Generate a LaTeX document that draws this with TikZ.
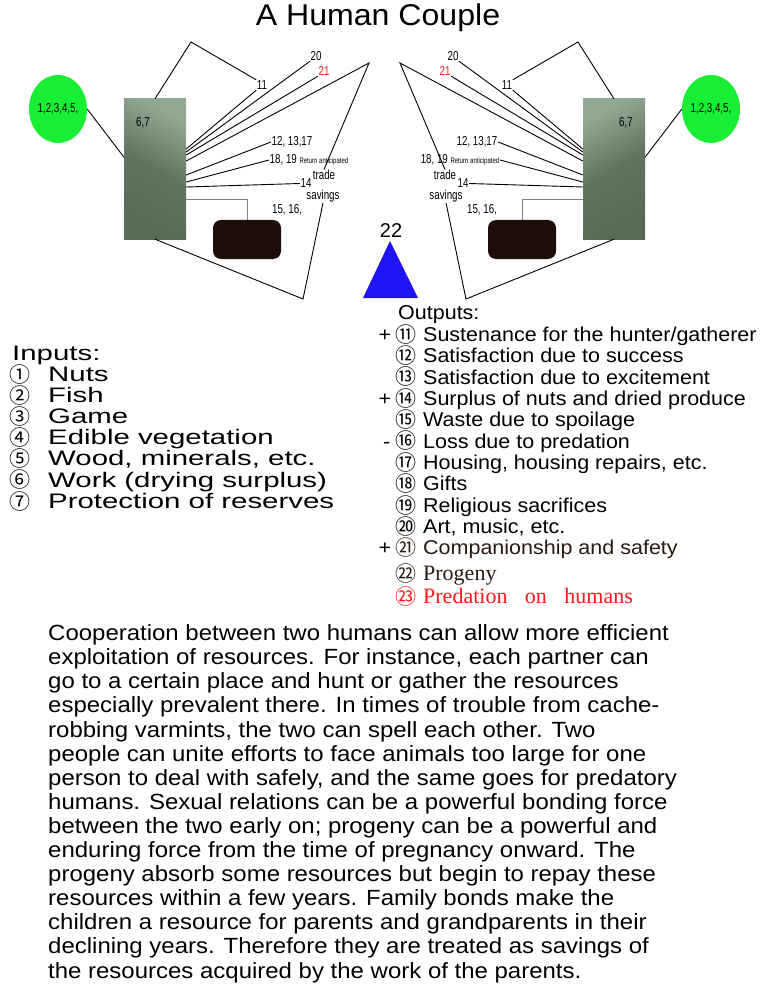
\documentclass[tikz,border=0pt]{standalone}
\usepackage{fontspec}
\setmainfont{Liberation Sans}
\newfontfamily\titlefont[FakeStretch=1.07]{Liberation Sans}
\newfontfamily\narrowfont[FakeStretch=0.75]{Liberation Sans}
\newfontfamily\inputfont[FakeStretch=1.4]{Liberation Sans}
\newfontfamily\outputfont[FakeStretch=1.075]{Liberation Sans}
\newfontfamily\parafont[FakeStretch=1.09]{Liberation Sans}
\newfontfamily\seriffont{Liberation Serif}
\newfontfamily\circfont{Noto Sans CJK JP}
\usetikzlibrary{shapes.geometric}
\definecolor{foodgreen}{RGB}{24,239,52}
\definecolor{hutlight}{RGB}{146,168,146}
\definecolor{hutdark}{RGB}{86,108,86}
\definecolor{storebrown}{RGB}{31,13,10}
\definecolor{kidblue}{RGB}{32,20,245}
\definecolor{mate}{RGB}{43,26,20}
\definecolor{danger}{RGB}{255,26,26}

\newcommand\cn[1]{\hspace{-3pt}\smash{\raisebox{-0.8pt}{\circfont\fontsize{21}{21}\selectfont #1}}}
\newcommand\couplehalf[4]{%
  \node[food] (#1food) at (58,109) {1,2,3,4,5,};
  \node[hut,shading angle=#4] (#1hut) at (155,169) {};
  \node[lbl] (#1work) at (143,123) {6,7};
  \node[lbl] (#1l11) at (262,85) {11};
  \node[lbl] (#1l20) at (316,56) {20};
  \node[lbl,text=danger] (#1l21) at (324,71) {21};
  \node[lbl] (#1l12) at (292,142) {12, 13,17};
  \node[lbl] (#1l18) at (309,160) {18, 19 {\fontsize{8}{8}\selectfont Return anticipated}};
  \node[lbl] (#1l14) at (306,183.5) {14};
  \node[lbl] (#1trade) at (324,175) {trade};
  \node[lbl] (#1savings) at (323,196) {savings};
  \node[lbl] (#1l15) at (287,210) {15, 16,};
  \node[store] (#1store) at (247,239.5) {};
  \coordinate (#1top) at (191,42);
  \coordinate (#1apex) at (369,63);
  \coordinate (#1foot) at (303,299);
  \draw[link] (#1food.#3) -- ([yshift=12pt]#1hut.#2);
  \draw[link] (#1hut.north) -- (#1top) -- (#1l11.north #2);
  \draw[link] (#1l11.south #2) -- ([yshift=20pt]#1hut.#3);
  \draw[link] (#1l20.south #2) -- ([yshift=17pt]#1hut.#3);
  \draw[link] (#1l21.south #2) -- ([yshift=14pt]#1hut.#3);
  \draw[link] ([yshift=8pt]#1hut.#3) -- (#1apex) -- (#1trade.north);
  \draw[link] (#1l12.#2) -- ([yshift=-6pt]#1hut.#3);
  \draw[link] (#1l18.#2) -- ([yshift=-13pt]#1hut.#3);
  \draw[link] (#1l14.#2) -- ([yshift=-18pt]#1hut.#3);
  \draw[link] (#1savings.south) -- (#1foot) -- (#1hut.south);
  \draw[link,gray] ([yshift=-30pt]#1hut.#3) -| (#1store.north);
}

\begin{document}
\begin{tikzpicture}[x=1pt,y=-1pt,
    food/.style={ellipse,fill=foodgreen,minimum width=58pt,minimum height=68pt,inner sep=0pt,
      font=\narrowfont\fontsize{13}{13}\selectfont},
    hut/.style={rectangle,minimum width=62pt,minimum height=140pt,inner sep=0pt,
      top color=hutlight,bottom color=hutdark,middle color=hutdark!85!hutlight},
    store/.style={rectangle,rounded corners=8pt,fill=storebrown,minimum width=68pt,minimum height=39pt},
    lbl/.style={inner sep=0.5pt,font=\narrowfont\fontsize{13}{13}\selectfont},
    link/.style={line width=0.9pt}]
\useasboundingbox[fill=white] (0,0) rectangle (768,1008);
\node[font=\titlefont\fontsize{30}{30}\selectfont] (title) at (378,18) {A Human Couple};
\begin{scope}
  \couplehalf{L}{west}{east}{-30}
\end{scope}
\begin{scope}[xshift=769pt,xscale=-1]
  \couplehalf{R}{east}{west}{30}
\end{scope}
\node[font=\fontsize{20}{20}\selectfont] (kidnum) at (391,231) {22};
\fill[kidblue] (390,241) -- (418,298) -- (363,298) -- cycle;
\node[anchor=north west,inner sep=0pt,align=left,
  font=\inputfont\fontsize{21}{21.15}\selectfont] (inputs) at (12,345.5) {Inputs:\\
  \cn{①}\hspace{18pt}Nuts\\
  \cn{②}\hspace{18pt}Fish\\
  \cn{③}\hspace{18pt}Game\\
  \cn{④}\hspace{18pt}Edible vegetation\\
  \cn{⑤}\hspace{18pt}Wood, minerals, etc.\\
  \cn{⑥}\hspace{18pt}Work (drying surplus)\\
  \cn{⑦}\hspace{18pt}Protection of reserves};
\node[anchor=north west,inner sep=0pt,align=left,
  font=\outputfont\fontsize{20}{21.36}\selectfont] (outputs) at (398,305.8) {Outputs:\\
  \llap{+\hspace{7pt}}\cn{⑪}\hspace{1pt} Sustenance for the hunter/gatherer\\
  \cn{⑫}\hspace{1pt} Satisfaction due to success\\
  \cn{⑬}\hspace{1pt} Satisfaction due to excitement\\
  \llap{+\hspace{7pt}}\cn{⑭}\hspace{1pt} Surplus of nuts and dried produce\\
  \cn{⑮}\hspace{1pt} Waste due to spoilage\\
  \llap{-\hspace{8pt}}\cn{⑯}\hspace{1pt} Loss due to predation\\
  \cn{⑰}\hspace{1pt} Housing, housing repairs, etc.\\
  \cn{⑱}\hspace{1pt} Gifts\\
  \cn{⑲}\hspace{1pt} Religious sacrifices\\
  \cn{⑳}\hspace{1pt} Art, music, etc.\\
  \llap{+\hspace{7pt}}\textcolor{mate}{\cn{㉑}\hspace{1pt} Companionship and safety}\\[4.6pt]
  \textcolor{mate}{\cn{㉒}\hspace{1pt} {\seriffont\fontsize{22}{22}\selectfont Progeny}}\\[1.6pt]
  \textcolor{danger}{\cn{㉓}\hspace{1pt} {\seriffont\fontsize{22}{22}\selectfont Predation\hspace{12pt} on\hspace{12pt} humans}}};
\node[anchor=north west,inner sep=0pt,align=left,
  font=\parafont\fontsize{22}{24.1}\selectfont] (story) at (48,624.5) {%
  Cooperation between two humans can allow more efficient\\
  exploitation of resources. For instance, each partner can\\
  go to a certain place and hunt or gather the resources\\
  especially prevalent there. In times of trouble from cache-\\
  robbing varmints, the two can spell each other. Two\\
  people can unite efforts to face animals too large for one\\
  person to deal with safely, and the same goes for predatory\\
  humans. Sexual relations can be a powerful bonding force\\
  between the two early on; progeny can be a powerful and\\
  enduring force from the time of pregnancy onward. The\\
  progeny absorb some resources but begin to repay these\\
  resources within a few years. Family bonds make the\\
  children a resource for parents and grandparents in their\\
  declining years. Therefore they are treated as savings of\\
  the resources acquired by the work of the parents.};
\end{tikzpicture}
\end{document}
